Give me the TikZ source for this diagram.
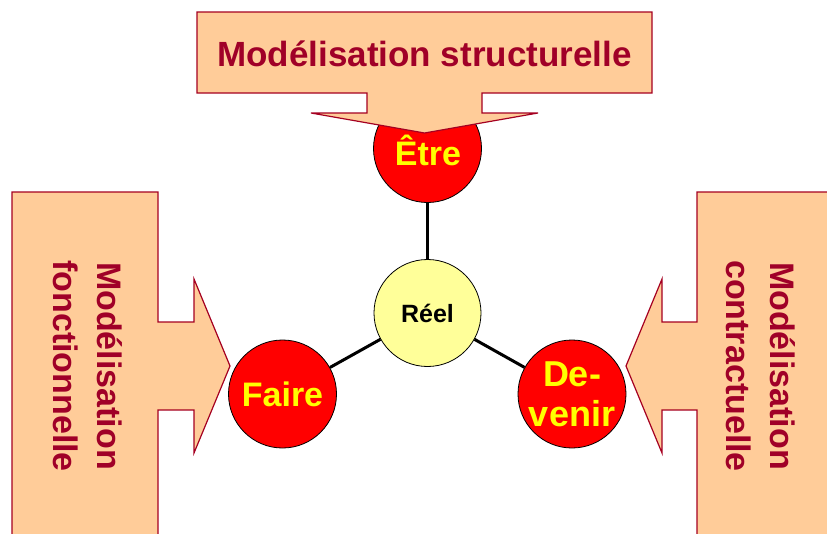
\documentclass[tikz,border=0pt]{standalone}
\usepackage{fontspec}
\setmainfont{Liberation Sans}
\definecolor{peach}{RGB}{255,204,153}
\definecolor{calloutline}{RGB}{165,0,33}
\definecolor{callouttext}{RGB}{160,0,40}
\definecolor{redfill}{RGB}{255,0,0}
\definecolor{yellowtext}{RGB}{255,255,0}
\definecolor{reelfill}{RGB}{255,255,153}
\begin{document}
\begin{tikzpicture}[x=1pt,y=-1pt,
  callout/.style={fill=peach,draw=calloutline,line width=1.2pt,line join=miter},
  calltext/.style={text=callouttext,font=\fontsize{34}{44}\selectfont\bfseries,align=center,inner sep=0pt},
  aspect/.style={circle,fill=redfill,draw=black,line width=0.8pt,minimum size=108pt,inner sep=0pt,
    text=yellowtext,font=\fontsize{34}{40}\selectfont\bfseries,align=center},
  reelnode/.style={circle,fill=reelfill,draw=black,line width=0.8pt,minimum size=107pt,inner sep=0pt,
    font=\fontsize{25}{30}\selectfont\bfseries},
  link/.style={line width=3pt,black}]
\useasboundingbox (0,0) rectangle (827,533);
\clip (0,0) rectangle (827,533);

% circles
\node[reelnode] (reel) at (427.5,313) {Réel};
\node[aspect] (etre) at (427.5,148.5) {};
\node[aspect] (faire) at (282.5,394) {Faire};
\node[aspect,font=\fontsize{36}{40}\selectfont\bfseries] (devenir) at (572,394) {De-\\venir};
\node[text=yellowtext,font=\fontsize{34}{40}\selectfont\bfseries] (etretext) at (428,150) {Être};

% connectors
\draw[link] (etre) -- (reel);
\draw[link] (faire) -- (reel);
\draw[link] (devenir) -- (reel);

% callouts
\draw[callout] (197,12) -- (652,12) -- (652,93) -- (482,93) -- (482,113) -- (538,113)
  -- (424.5,133) -- (311,113) -- (367,113) -- (367,93) -- (197,93) -- cycle;
\draw[callout] (12,192) -- (158,192) -- (158,322) -- (194,322) -- (194,279) -- (230,366)
  -- (194,453) -- (194,410) -- (158,410) -- (158,545) -- (12,545) -- cycle;
\draw[callout] (850,192) -- (697,192) -- (697,322) -- (662,322) -- (662,279) -- (626,366)
  -- (662,453) -- (662,410) -- (697,410) -- (697,545) -- (850,545) -- cycle;

\node[calltext,font=\fontsize{35}{44}\selectfont\bfseries] (top) at (424.5,54) {Modélisation structurelle};
\node[calltext,rotate=-90] (left) at (88,366) {Modélisation\\fonctionnelle};
\node[calltext,rotate=-90] (right) at (761,366) {Modélisation\\contractuelle};
\end{tikzpicture}
\end{document}
